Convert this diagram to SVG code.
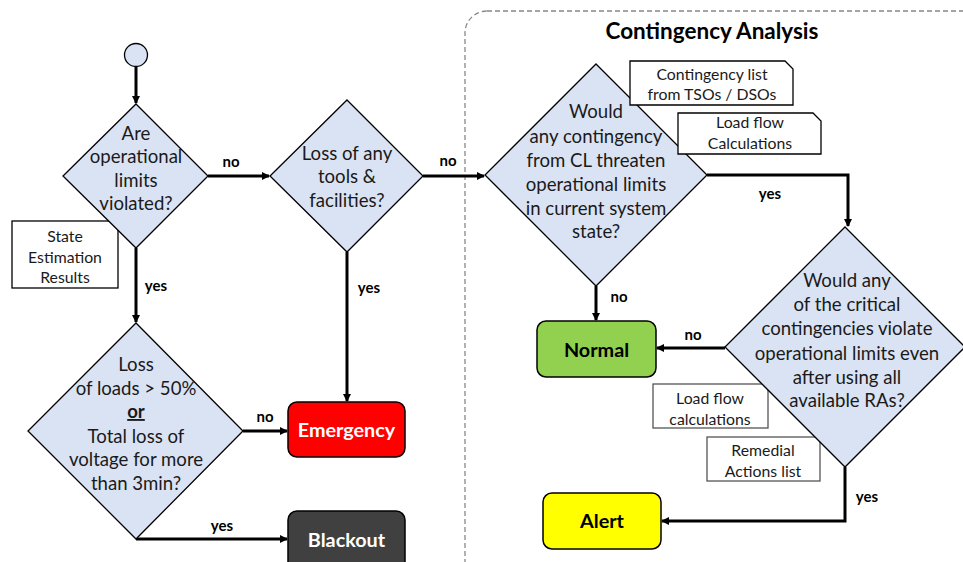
<svg xmlns="http://www.w3.org/2000/svg" width="963" height="562" viewBox="0 0 963 562">
  <style>
    text { font-family: Lato, "Liberation Sans", sans-serif; text-anchor: middle; }
    .dia { fill: #dae3f3; stroke: #000; stroke-width: 1.3; }
    .q { font-size: 18.6px; fill: #1a1a1a; }
    .note { fill: #fff; stroke: #000; stroke-width: 1.3; }
    .note2 { fill: #fff; stroke: #555; stroke-width: 1.3; }
    .nt { font-size: 15.8px; fill: #1a1a1a; }
    .lbl { font-size: 15px; font-weight: bold; fill: #000; }
    .state { stroke: #000; stroke-width: 1.5; }
    .st { font-size: 19.8px; font-weight: bold; }
    .edge { fill: none; stroke: #000; stroke-width: 3; marker-end: url(#arrow); }
  </style>
  <defs>
    <marker id="arrow" markerWidth="8" markerHeight="8" refX="7" refY="4" orient="auto" markerUnits="userSpaceOnUse">
      <path d="M0,0 L8,4 L0,8 Z" fill="#000"/>
    </marker>
  </defs>

  <!-- contingency analysis frame -->
  <g id="contingency-frame">
    <rect x="465" y="11" width="530" height="580" rx="22" fill="none" stroke="#888" stroke-width="1.3" stroke-dasharray="5,3"/>
    <text x="712" y="39" style="font-size:22.5px;font-weight:bold">Contingency Analysis</text>
  </g>

  <!-- connectors -->
  <g id="connectors">
    <path class="edge" d="M136,67 V103"/>
    <path class="edge" d="M208,176 H269"/>
    <path class="edge" d="M136,248 V322"/>
    <path class="edge" d="M243,431 H287"/>
    <path class="edge" d="M136,539 H287"/>
    <path class="edge" d="M347,252 V401"/>
    <path class="edge" d="M423,176 H484"/>
    <path class="edge" d="M707,175 H848 V226"/>
    <path class="edge" d="M596,286 V320"/>
    <path class="edge" d="M725,348 H657"/>
    <path class="edge" d="M845,467 V521 H662"/>
    <text class="lbl" x="231" y="167">no</text>
    <text class="lbl" x="156" y="291">yes</text>
    <text class="lbl" x="448" y="166">no</text>
    <text class="lbl" x="369" y="293">yes</text>
    <text class="lbl" x="265" y="422">no</text>
    <text class="lbl" x="222" y="531">yes</text>
    <text class="lbl" x="770" y="199">yes</text>
    <text class="lbl" x="619" y="302">no</text>
    <text class="lbl" x="693" y="340">no</text>
    <text class="lbl" x="867" y="502">yes</text>
  </g>

  <!-- start -->
  <g id="start">
    <circle cx="136" cy="55" r="11.5" fill="#dae3f3" stroke="#000" stroke-width="1.3"/>
  </g>

  <!-- state estimation input -->
  <g id="state-estimation">
    <rect class="note" x="12" y="221" width="106" height="67"/>
    <text class="nt" x="65" y="242">State</text>
    <text class="nt" x="65" y="263">Estimation</text>
    <text class="nt" x="65" y="283">Results</text>
  </g>

  <g id="limits-violated">
    <polygon class="dia" points="136,104 208,176 136,248 63,176"/>
    <text class="q" x="136" y="140">Are</text>
    <text class="q" x="136" y="163">operational</text>
    <text class="q" x="136" y="187">limits</text>
    <text class="q" x="136" y="210">violated?</text>
  </g>

  <g id="loss-of-tools">
    <polygon class="dia" points="347,100 423,176 347,252 270,176"/>
    <text class="q" x="347" y="160">Loss of any</text>
    <text class="q" x="347" y="183">tools &amp;</text>
    <text class="q" x="347" y="207">facilities?</text>
  </g>

  <g id="loss-of-loads">
    <polygon class="dia" points="136,323 243,431 136,539 28,431"/>
    <text class="q" x="136" y="371">Loss</text>
    <text class="q" x="136" y="395">of loads &gt; 50%</text>
    <text class="q" x="136" y="418" style="font-weight:bold;text-decoration:underline">or</text>
    <text class="q" x="136" y="443">Total loss of</text>
    <text class="q" x="136" y="466">voltage for more</text>
    <text class="q" x="136" y="490">than 3min?</text>
  </g>

  <g id="emergency">
    <rect class="state" x="288" y="402" width="117" height="55" rx="9" fill="#ff0000"/>
    <text class="st" x="346.5" y="437" fill="#fff">Emergency</text>
  </g>

  <g id="blackout">
    <rect class="state" x="288" y="511" width="117" height="60" rx="9" fill="#404040"/>
    <text class="st" x="346.5" y="547" fill="#fff">Blackout</text>
  </g>

  <g id="contingency-threat">
    <polygon class="dia" points="596,64 707,175 596,286 485,175"/>
    <text class="q" x="596" y="118">Would</text>
    <text class="q" x="596" y="143">any contingency</text>
    <text class="q" x="596" y="167">from CL threaten</text>
    <text class="q" x="596" y="191">operational limits</text>
    <text class="q" x="596" y="215">in current system</text>
    <text class="q" x="596" y="238">state?</text>
  </g>

  <g id="contingency-list">
    <path class="note" d="M630,61 H785 L793,69 V105 H630 Z"/>
    <text class="nt" x="712" y="80">Contingency list</text>
    <text class="nt" x="712" y="100">from TSOs / DSOs</text>
  </g>

  <g id="load-flow-1">
    <path class="note" d="M678,113 H813 L821,121 V154 H678 Z"/>
    <text class="nt" x="750" y="128">Load flow</text>
    <text class="nt" x="750" y="149">Calculations</text>
  </g>

  <g id="load-flow-2">
    <rect class="note2" x="653" y="384" width="115" height="44"/>
    <text class="nt" x="710" y="404">Load flow</text>
    <text class="nt" x="710" y="425">calculations</text>
  </g>

  <g id="remedial-actions">
    <rect class="note2" x="707" y="437" width="113" height="44"/>
    <text class="nt" x="763" y="456">Remedial</text>
    <text class="nt" x="763" y="477">Actions list</text>
  </g>

  <g id="critical-contingencies">
    <polygon class="dia" points="845,227 965,347 845,467 725,347"/>
    <text class="q" x="847" y="287">Would any</text>
    <text class="q" x="847" y="311">of the critical</text>
    <text class="q" x="847" y="335">contingencies violate</text>
    <text class="q" x="847" y="360">operational limits even</text>
    <text class="q" x="847" y="384">after using all</text>
    <text class="q" x="847" y="407">available RAs?</text>
  </g>

  <g id="normal">
    <rect class="state" x="537" y="321" width="119" height="56" rx="9" fill="#92d050"/>
    <text class="st" x="596.5" y="357" fill="#000">Normal</text>
  </g>

  <g id="alert">
    <rect class="state" x="543" y="493" width="118" height="56" rx="9" fill="#ffff00"/>
    <text class="st" x="602" y="528" fill="#000">Alert</text>
  </g>
</svg>
